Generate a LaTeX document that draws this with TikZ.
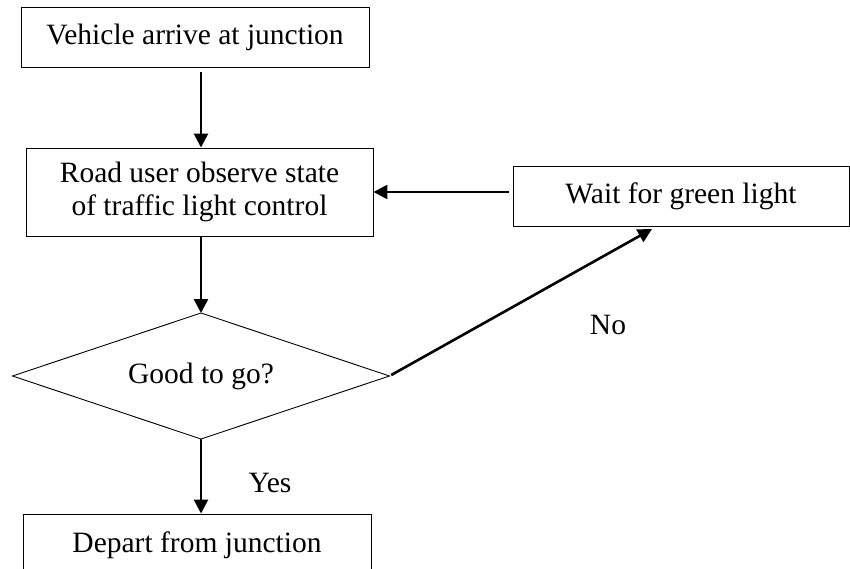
\documentclass[tikz,border=0pt]{standalone}
\usepackage{fontspec}
\setmainfont{Liberation Serif}
\usetikzlibrary{shapes.geometric,arrows.meta}
\begin{document}
\begin{tikzpicture}[x=1pt,y=-1pt,
  every node/.style={font=\fontsize{29.5}{33}\selectfont},
  box/.style={draw,line width=0.9pt,inner sep=0pt,align=center},
  arr/.style={line width=2.6pt,-{Triangle[width=14pt,length=14pt]}},
  lbl/.style={inner sep=0pt}]
\useasboundingbox (0,0) rectangle (850,569);
\node[box,minimum width=348,minimum height=60] (b1) at (195,37) {Vehicle arrive at junction};
\node[box,minimum width=347,minimum height=88] (b2) at (199.5,192) {Road user observe state\\of traffic light control};
\node[box,minimum width=336,minimum height=60] (b3) at (681,196) {Wait for green light};
\node[draw,line width=0.9pt,diamond,aspect=3,inner sep=0pt,outer sep=0pt,minimum width=377,minimum height=126] (d) at (201,376) {Good to go?};
\node[box,minimum width=348,minimum height=62] (b4) at (197,545) {Depart from junction};
\coordinate (nt) at (652,229);
\node[lbl] (no) at (608,325) {No};
\node[lbl] (yes) at (270,483) {Yes};
\draw[arr,shorten <=5pt] (b1.south -| d.north) -- (b2.north -| d.north);
\draw[arr] (b2.south -| d.north) -- (d.north);
\draw[arr,shorten <=4pt] (b3.west |- b2.east) -- (b2.east);
\draw[arr,shorten <=2pt] (d.east) -- (nt);
\draw[arr] (d.south) -- (b4.north -| d.south);
\end{tikzpicture}
\end{document}
